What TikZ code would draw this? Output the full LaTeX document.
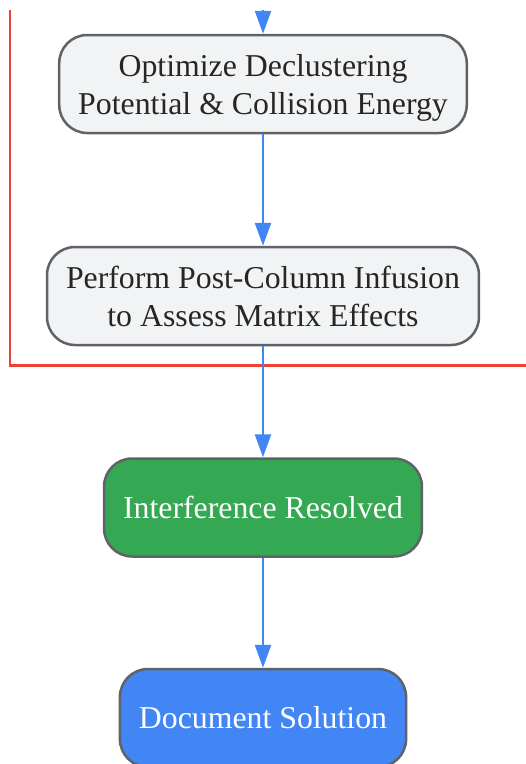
\documentclass[tikz,border=0pt]{standalone}
\usepackage{fontspec}
\setmainfont{Liberation Serif}
\usetikzlibrary{arrows.meta}
\definecolor{stepgray}{HTML}{F1F3F4}
\definecolor{edgegray}{HTML}{5F6368}
\definecolor{okgreen}{HTML}{34A853}
\definecolor{docblue}{HTML}{4285F4}
\definecolor{framered}{HTML}{EA4335}
\tikzset{
  stepnode/.style={draw=edgegray, line width=2.5pt, rounded corners=28pt, align=center,
    inner xsep=19pt, minimum height=98pt, font=\fontsize{31.8}{38}\selectfont, text=black!85},
  twoline/.style={stepnode, fill=stepgray, text depth=0pt},
  okbox/.style={stepnode, fill=okgreen, text=white},
  docbox/.style={stepnode, fill=docblue, text=white},
  flowarrow/.style={draw=docblue, line width=2.5pt, -{Triangle[length=23pt,width=16pt]}}
}
\begin{document}
\begin{tikzpicture}[x=1pt,y=-1pt]
			%%%%% START %%%%%
			\useasboundingbox (0,0) rectangle (526,764);
			
			\draw[framered, line width=2.2pt] (10,10) -- (10,365.5) -- (530,365.5);
			
			\coordinate (entry) at (263,10);
			
			\node[twoline] (optimize) at (263,84) {Optimize Declustering\\Potential \& Collision Energy};
			\node[twoline] (infusion) at (263,296) {Perform Post-Column Infusion\\to Assess Matrix Effects};
			\node[okbox] (resolved) at (263,507.5) {Interference Resolved};
			\node[docbox] (document) at (263,718) {Document Solution};
			
			\draw[flowarrow] (entry) -- (optimize);
			\draw[flowarrow] (optimize) -- (infusion);
			\draw[flowarrow] (infusion) -- (resolved);
			\draw[flowarrow] (resolved) -- (document);
			%%%%% END %%%%%
\end{tikzpicture}
\end{document}
